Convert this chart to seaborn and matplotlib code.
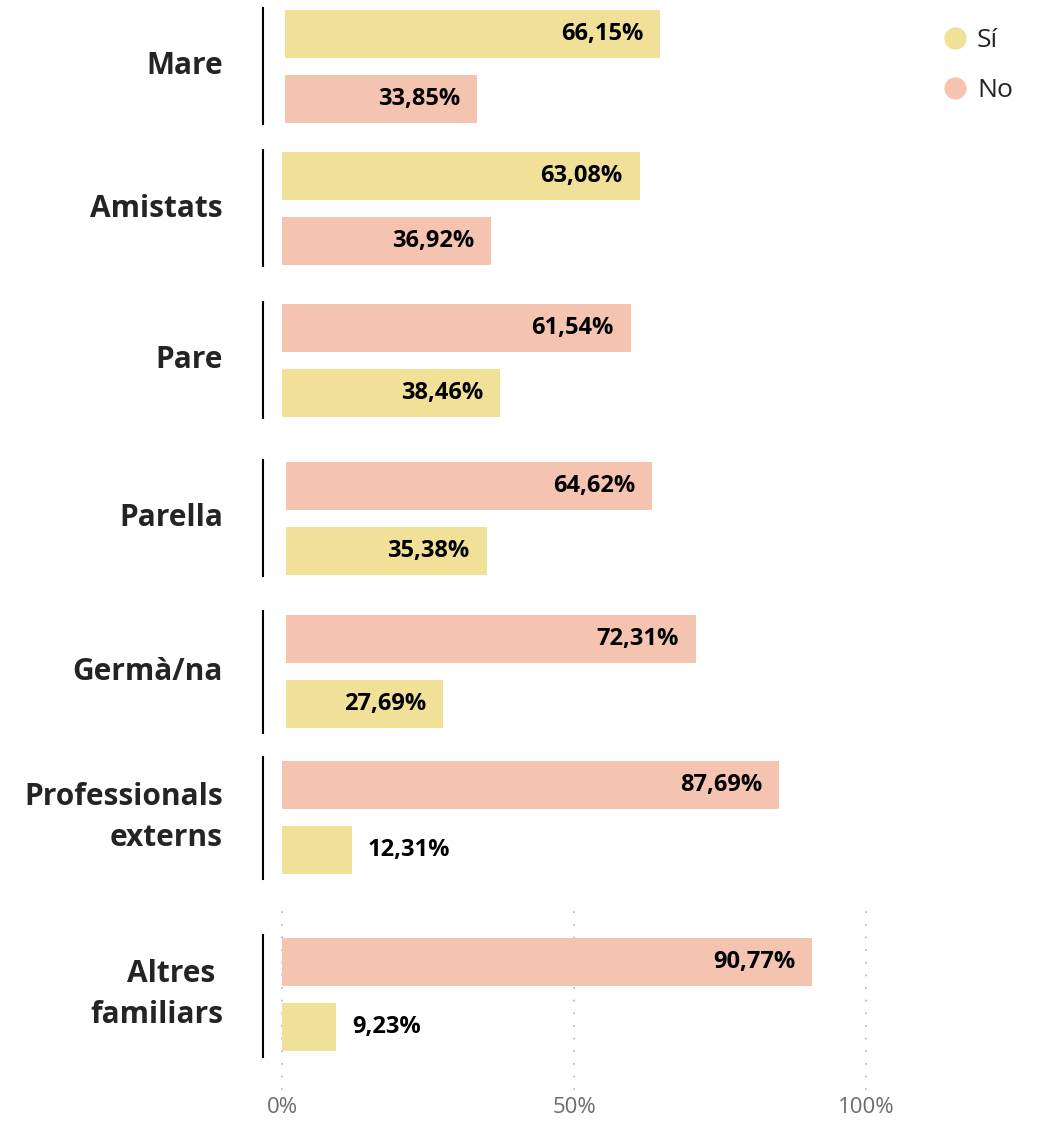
import pandas as pd
import matplotlib.pyplot as plt
import matplotlib.transforms as mtransforms
from matplotlib.lines import Line2D
import seaborn as sns

# data
groups = ['Mare', 'Amistats', 'Pare', 'Parella', 'Germà/na',
          'Professionals\nexterns', 'Altres \nfamiliars']
si = [66.15, 63.08, 38.46, 35.38, 27.69, 12.31, 9.23]
no = [33.85, 36.92, 61.54, 64.62, 72.31, 87.69, 90.77]
ticks = [0, 50, 100]
tick_labels = ['0%', '50%', '100%']

colors = {'Sí': '#F0E098', 'No': '#F4C4B0'}
text_col = '#252423'

# layout (pixels of the 1045x1123 canvas)
W, H = 1045, 1123
line_top = [8, 150, 302, 460, 611, 757, 935]
line_bot = [124, 266, 418, 576, 733, 879, 1057]
bar_top = [10, 152, 304, 462, 615, 761, 938]
bar_x0 = [285, 282, 282, 286, 286, 282, 282]
px_per_pct = [5.67] * 6 + [5.84]
bar_h, bar_step = 48, 65
ax_left, ax_w = 263, 640
grid_top, grid_bot = 905, 1090

sns.set_theme(style='white')
plt.rcParams['font.family'] = ['Open Sans', 'DejaVu Sans']

fig = plt.figure(figsize=(W / 100, H / 100), dpi=100)

for i, grp in enumerate(groups):
    df = pd.DataFrame({'resp': ['Sí', 'No'], 'value': [si[i], no[i]]})
    df = df.sort_values('value', ascending=False).reset_index(drop=True)
    last = i == len(groups) - 1

    top_px = grid_top if last else line_top[i]
    bot_px = grid_bot if last else line_bot[i]
    c0 = bar_top[i] + bar_h / 2
    ax = fig.add_axes([ax_left / W, 1 - bot_px / H, ax_w / W, (bot_px - top_px) / H])

    sns.barplot(data=df, x='value', y='resp', hue='resp', order=list(df['resp']),
                hue_order=['Sí', 'No'], palette=colors, saturation=1,
                width=bar_h / bar_step, orient='h', ax=ax, legend=False,
                linewidth=0, zorder=3)

    ax.set_ylim((bot_px - c0) / bar_step, (top_px - c0) / bar_step)
    sc = px_per_pct[i]
    xl = -(bar_x0[i] - ax_left) / sc
    ax.set_xlim(xl, xl + ax_w / sc)
    ax.set_xlabel('')
    ax.set_ylabel('')
    ax.set_yticks([])

    for s in ['top', 'right', 'bottom']:
        ax.spines[s].set_visible(False)
    ax.spines['left'].set_color('black')
    ax.spines['left'].set_linewidth(1.5)
    ax.spines['left'].set_position(('data', xl))
    ax.spines['left'].set_bounds((line_top[i] - c0) / bar_step, (line_bot[i] - c0) / bar_step)

    if last:
        ax.set_xticks(ticks)
        ax.set_xticklabels(tick_labels, fontsize=16, color='#6b6b6b')
        ax.tick_params(axis='x', length=0, pad=5)
        ax.xaxis.grid(True, color='#bdbdbd', linewidth=1.3, linestyle=(0, (1, 6)), zorder=0)
        ax.set_axisbelow(True)
    else:
        ax.set_xticks([])

    # value labels
    for j, v in enumerate(df['value']):
        txt = f'{v:.2f}%'.replace('.', ',')
        if v > 20:
            ax.annotate(txt, (v, j), xytext=(-17, 0), textcoords='offset pixels',
                        ha='right', va='center', fontsize=17, fontweight='bold',
                        color='black', zorder=4)
        else:
            ax.annotate(txt, (v, j), xytext=(16, 0), textcoords='offset pixels',
                        ha='left', va='center', fontsize=17, fontweight='bold',
                        color='black', zorder=4)

    # category label
    trans = mtransforms.blended_transform_factory(ax.transAxes, ax.transData)
    ax.annotate(grp, (0, 0.5), xycoords=trans, xytext=(-40, 0), textcoords='offset pixels',
                ha='right', va='center', multialignment='right', linespacing=1.45,
                fontsize=21.5, fontweight='bold', color=text_col)

handles = [Line2D([], [], marker='o', linestyle='', markersize=17,
                  markerfacecolor=colors[k], markeredgecolor='white') for k in ['Sí', 'No']]
fig.legend(handles, ['Sí', 'No'], loc='upper left', bbox_to_anchor=(915 / W, 1 - 4 / H),
           frameon=False, fontsize=19, labelcolor=text_col, handletextpad=0.25,
           labelspacing=0.95, handlelength=1.2)

fig.savefig('out.png', dpi=100, facecolor='white')
